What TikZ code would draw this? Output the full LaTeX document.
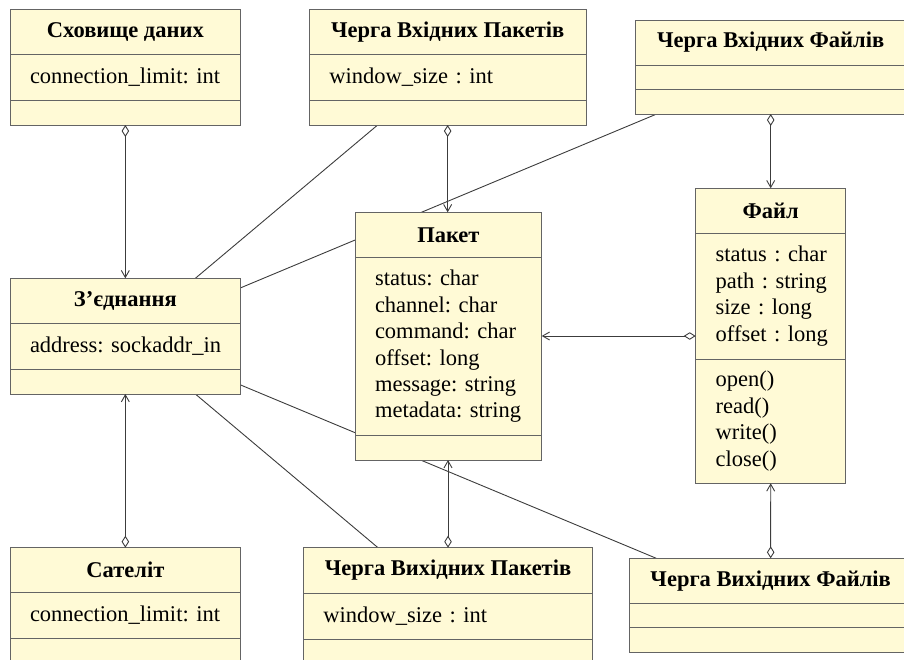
\documentclass[tikz,border=0pt]{standalone}
\usepackage{fontspec}
\setmainfont{Liberation Serif}
\usetikzlibrary{arrows.meta,positioning,backgrounds}

\definecolor{umlfill}{RGB}{255,250,214}
\definecolor{umledge}{RGB}{100,100,100}
\definecolor{umlline}{RGB}{60,60,60}
\hyphenpenalty=10000
\exhyphenpenalty=10000

\tikzset{
  cls/.style={rectangle, draw=umledge, fill=umlfill, line width=1pt, outer sep=0pt,
    inner xsep=20pt, inner ysep=0pt, align=left, font=\fontsize{22.5}{26.4}\selectfont},
  clstitle/.style={cls, anchor=north west, align=center,
    font=\bfseries\fontsize{22.5}{26.4}\selectfont},
  assoc/.style={draw=umlline, line width=0.9pt},
  agg/.style={assoc, arrows={Diamond[open,length=12pt,width=7.5pt]-Straight Barb[length=7pt,width=8pt]}}
}

\begin{document}
\begin{tikzpicture}[x=1pt, y=-1pt]
\useasboundingbox (0,0) rectangle (904,659);

% top row
\node[clstitle, minimum width=230.7pt, minimum height=45.3pt] (data-t) at (10,9) {Сховище даних};
\node[cls, below=0pt of data-t, text width=190.7pt, minimum height=45.7pt] (data-a) {connection\_limit:~int};
\node[cls, below=0pt of data-a, text width=190.7pt, minimum height=25pt] (data-o) {};

\node[clstitle, minimum width=276.7pt, minimum height=45.3pt] (inpk-t) at (309.3,9) {Черга Вхідних Пакетів};
\node[cls, below=0pt of inpk-t, text width=236.7pt, minimum height=45.7pt] (inpk-a) {window\_size~:~int};
\node[cls, below=0pt of inpk-a, text width=236.7pt, minimum height=25pt] (inpk-o) {};

\node[clstitle, minimum width=270pt, minimum height=45pt] (infl-t) at (635.7,20) {Черга Вхідних Файлів};
\node[cls, below=0pt of infl-t, text width=230pt, minimum height=24.3pt] (infl-a) {};
\node[cls, below=0pt of infl-a, text width=230pt, minimum height=24.7pt] (infl-o) {};

% middle row
\node[clstitle, minimum width=230.7pt, minimum height=45pt] (conn-t) at (10,278.3) {З’єднання};
\node[cls, below=0pt of conn-t, text width=190.7pt, minimum height=45.7pt] (conn-a) {address:~sockaddr\_in};
\node[cls, below=0pt of conn-a, text width=190.7pt, minimum height=25pt] (conn-o) {};

\node[clstitle, minimum width=186.7pt, minimum height=45pt] (pkt-t) at (355,212.3) {Пакет};
\node[cls, below=0pt of pkt-t, text width=146.7pt, minimum height=178.4pt] (pkt-a)
  {status:~char\\channel:~char\\command:~char\\offset:~long\\message:~string\\metadata:~string};
\node[cls, below=0pt of pkt-a, text width=146.7pt, minimum height=24.3pt] (pkt-o) {};

\node[clstitle, minimum width=150pt, minimum height=45pt] (file-t) at (695.7,188.3) {Файл};
\node[cls, below=0pt of file-t, text width=110pt, minimum height=125.7pt] (file-a)
  {status~:~char\\path~:~string\\size~:~long\\offset~:~long};
\node[cls, below=0pt of file-a, text width=110pt, minimum height=124.3pt] (file-o)
  {open()\\read()\\write()\\close()};

% bottom row
\node[clstitle, minimum width=230.7pt, minimum height=45pt] (sat-t) at (10,547.7) {Сателіт};
\node[cls, below=0pt of sat-t, text width=190.7pt, minimum height=45.6pt] (sat-a) {connection\_limit:~int};
\node[cls, below=0pt of sat-a, text width=190.7pt, minimum height=25pt] (sat-o) {};

\node[clstitle, minimum width=289.4pt, minimum height=45.6pt] (outpk-t) at (303.3,547.7) {Черга Вихідних Пакетів};
\node[cls, below=0pt of outpk-t, text width=249.4pt, minimum height=45.7pt] (outpk-a) {window\_size~:~int};
\node[cls, below=0pt of outpk-a, text width=249.4pt, minimum height=25pt] (outpk-o) {};

\node[clstitle, minimum width=282.7pt, minimum height=45pt] (outfl-t) at (629.3,558.3) {Черга Вихідних Файлів};
\node[cls, below=0pt of outfl-t, text width=242.7pt, minimum height=24.4pt] (outfl-a) {};
\node[cls, below=0pt of outfl-a, text width=242.7pt, minimum height=24.6pt] (outfl-o) {};

% associations behind the boxes
\begin{pgfonlayer}{background}
\draw[assoc] ([xshift=70pt]conn-t.north) -- ([xshift=-70pt]inpk-o.south);
\draw[assoc] ([yshift=13pt]conn-t.east) -- ([xshift=21pt]infl-o.south west);
\draw[assoc] ([yshift=-3.5pt]conn-o.east) -- ([xshift=27pt]outfl-t.north west);
\draw[assoc] ([xshift=70pt]conn-o.south) -- ([xshift=-70pt]outpk-t.north);
\end{pgfonlayer}

% aggregations
\coordinate (fileagg) at ([yshift=23pt]file-a.south west);
\draw[agg] (data-o.south) -- (conn-t.north);
\draw[agg] (inpk-o.south) -- (inpk-o.south |- pkt-t.north);
\draw[agg] (infl-o.south) -- (file-t.north);
\draw[agg] (fileagg) -- (fileagg -| pkt-a.east);
\draw[agg] (outfl-t.north) -- (file-o.south);
\draw[agg] (outpk-t.north) -- (outpk-t.north |- pkt-o.south);
\draw[agg] (sat-t.north) -- (conn-o.south);
\end{tikzpicture}
\end{document}
